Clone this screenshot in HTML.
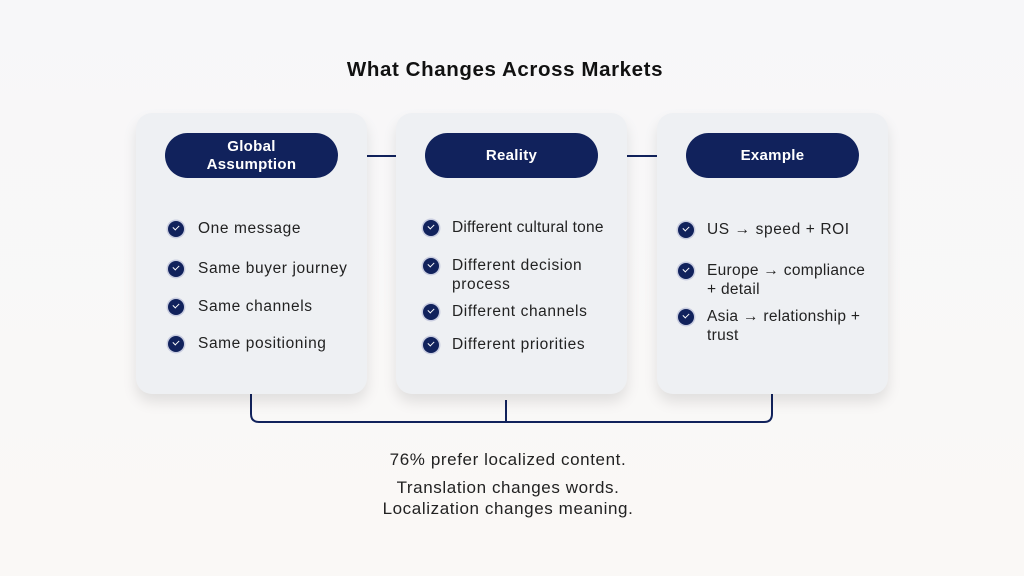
<!DOCTYPE html>
<html><head><style>
body{margin:0;width:1024px;height:576px;background:linear-gradient(180deg,#f7f7f9 0%,#faf8f6 100%);font-family:"Liberation Sans",sans-serif;position:relative;overflow:hidden;color:#1a1a2a}
.t{position:absolute;white-space:nowrap}
.card{position:absolute;top:113px;width:231px;height:281px;background:#eef0f3;border-radius:16px;box-shadow:0 8px 14px rgba(0,0,0,0.10)}
.pill{position:absolute;top:133px;width:173px;height:45px;background:#11225c;border-radius:23px;color:#fff;font-weight:bold;font-size:15px;display:flex;align-items:center;justify-content:center;text-align:center;line-height:18px;letter-spacing:0.3px}
.ck{position:absolute;width:16px;height:16px;border-radius:50%;background:#11225c;box-shadow:0 0 0 1.5px #c9cde0}
.ck:after{content:"";position:absolute;left:5px;top:4px;width:5px;height:3px;border-left:1.5px solid #fff;border-bottom:1.5px solid #fff;transform:rotate(-45deg)}
.it{position:absolute;font-size:15.5px;line-height:19px;color:#222;letter-spacing:0.6px;white-space:nowrap}
</style></head><body>
<div class="t" style="left:0;width:1010px;text-align:center;top:58px;font-weight:bold;font-size:20.5px;letter-spacing:0.6px;color:#111">What Changes Across Markets</div>
<svg style="position:absolute;left:0;top:0" width="1024" height="576">
<line x1="338" y1="156" x2="686" y2="156" stroke="#11225c" stroke-width="2"/>
<path d="M251 394 V414 Q251 422 259 422 H764 Q772 422 772 414 V394" fill="none" stroke="#11225c" stroke-width="2"/>
<line x1="506" y1="400" x2="506" y2="422" stroke="#11225c" stroke-width="2"/>
</svg>
<div class="card" style="left:136px"></div>
<div class="card" style="left:396px"></div>
<div class="card" style="left:657px"></div>
<div class="pill" style="left:165px">Global<br>Assumption</div>
<div class="pill" style="left:425px">Reality</div>
<div class="pill" style="left:686px">Example</div>

<div class="ck" style="left:168px;top:221px"></div><div class="it" style="left:198px;top:219px">One message</div>
<div class="ck" style="left:168px;top:261px"></div><div class="it" style="left:198px;top:259px">Same buyer journey</div>
<div class="ck" style="left:168px;top:299px"></div><div class="it" style="left:198px;top:297px">Same channels</div>
<div class="ck" style="left:168px;top:336px"></div><div class="it" style="left:198px;top:334px">Same positioning</div>

<div class="ck" style="left:423px;top:220px"></div><div class="it" style="left:452px;top:218px;letter-spacing:0.2px">Different cultural tone</div>
<div class="ck" style="left:423px;top:258px"></div><div class="it" style="left:452px;top:256px">Different decision<br>process</div>
<div class="ck" style="left:423px;top:304px"></div><div class="it" style="left:452px;top:302px">Different channels</div>
<div class="ck" style="left:423px;top:337px"></div><div class="it" style="left:452px;top:335px">Different priorities</div>

<div class="ck" style="left:678px;top:222px"></div><div class="it" style="left:707px;top:220px">US → speed + ROI</div>
<div class="ck" style="left:678px;top:263px"></div><div class="it" style="left:707px;top:261px;letter-spacing:0.3px">Europe → compliance<br>+ detail</div>
<div class="ck" style="left:678px;top:309px"></div><div class="it" style="left:707px;top:307px;letter-spacing:0.3px">Asia → relationship +<br>trust</div>

<div class="t" style="left:0;width:1016px;text-align:center;top:450px;font-size:17px;letter-spacing:0.6px;color:#222">76% prefer localized content.</div>
<div class="t" style="left:0;width:1016px;text-align:center;top:477px;font-size:17px;letter-spacing:0.6px;line-height:21px;color:#222">Translation changes words.<br>Localization changes meaning.</div>
</body></html>
